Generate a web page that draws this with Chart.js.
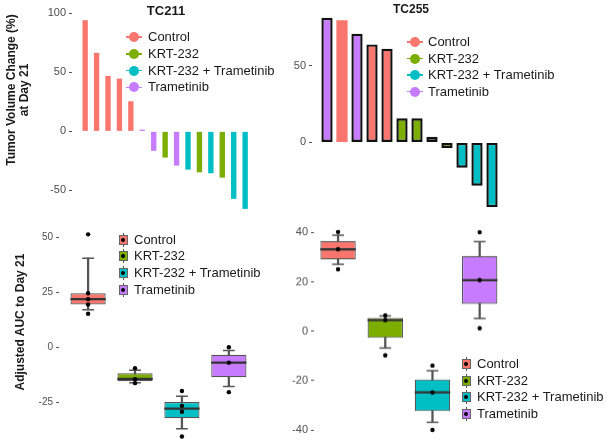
<!DOCTYPE html>
<html>
<head>
<meta charset="utf-8">
<script src="https://cdn.jsdelivr.net/npm/chart.js@4.4.1/dist/chart.umd.min.js"></script>
<style>
  html, body { margin: 0; padding: 0; background: #fff; }
  body { position: relative; width: 608px; height: 441px; overflow: hidden; font-family: 'Liberation Sans', Arial, sans-serif; }
  .panel { position: absolute; }
  .panel canvas { display: block; }
  .ptitle { position: absolute; font-weight: bold; color: #1a1a1a; transform: translate(-50%, -50%); white-space: nowrap; z-index: 2; }
  .ytitle { position: absolute; font-weight: bold; font-size: 12px; line-height: 13px; color: #1a1a1a; text-align: center; white-space: nowrap; transform: translate(-50%, -50%) rotate(-90deg); z-index: 2; }
  .legend { position: absolute; left: 0; top: 0; z-index: 2; font-size: 13px; color: #1a1a1a; }
  .legend .txt { position: absolute; white-space: nowrap; line-height: 16px; transform: translateY(-50%); }
  .legend .key { position: absolute; }
</style>
</head>
<body>

<div class="panel" id="tc211Wf"><canvas id="tc211WfCanvas"></canvas></div>
<div class="panel" id="tc255Wf"><canvas id="tc255WfCanvas"></canvas></div>
<div class="panel" id="tc211Auc"><canvas id="tc211AucCanvas"></canvas></div>
<div class="panel" id="tc255Auc"><canvas id="tc255AucCanvas"></canvas></div>

<div class="ptitle" style="left:166px; top:10px; font-size:13px;">TC211</div>
<div class="ptitle" style="left:411px; top:9px; font-size:12px;">TC255</div>
<div class="ytitle" style="left:18px; top:90px;">Tumor Volume Change (%)<br>at Day 21</div>
<div class="ytitle" style="left:20px; top:322px;">Adjusted AUC to Day 21</div>

<div class="legend" id="legendTL"></div>
<div class="legend" id="legendTR"></div>
<div class="legend" id="legendBL"></div>
<div class="legend" id="legendBR"></div>

<script>
const FONT = "'Liberation Sans', Arial, sans-serif";

const groups = ['Control', 'KRT-232', 'KRT-232 + Trametinib', 'Trametinib'];
const groupColors = ['#F8766D', '#7CAE00', '#00BFC4', '#C77CFF'];

// waterfall TC211, one bar per tumour
const tc211Group = ['Control', 'Control', 'Control', 'Control', 'Control', 'Trametinib', 'Trametinib', 'KRT-232',
    'Trametinib', 'KRT-232 + Trametinib', 'KRT-232', 'KRT-232 + Trametinib', 'KRT-232', 'KRT-232 + Trametinib', 'KRT-232 + Trametinib'];
const tc211Change = [94.2, 66.5, 47, 44.7, 25.5, 1.5, -16.5, -22.2, -29, -32.4, -34.7, -35.5, -39.2, -57.2, -65.7];
const tc211ChangeTicks = [-50, 0, 50, 100];

// waterfall TC255
const tc255Group = ['Trametinib', 'Control', 'Trametinib', 'Control', 'Control', 'KRT-232', 'KRT-232', 'Trametinib',
    'KRT-232', 'KRT-232 + Trametinib', 'KRT-232 + Trametinib', 'KRT-232 + Trametinib'];
const tc255Change = [81.3, 79.6, 70.9, 63.9, 61.1, 15.7, 15.7, 3.7, -3.7, -16.5, -28.2, -42.2];
const tc255ChangeTicks = [0, 50];

// AUC boxplots TC211 (per group: whisker low, q1, median, q3, whisker high)
const tc211Low = [17.1, -16, -36.9, -17.7];
const tc211Q1 = [19.5, -15.3, -32.1, -13.5];
const tc211Median = [21.9, -14.3, -27.8, -6.9];
const tc211Q3 = [24.6, -11.7, -24.8, -3.3];
const tc211High = [40.5, -10.4, -22.1, -1.4];
const tc211Points = [[51.3, 24.6, 21.9, 19.5, 15.3], [-9.4, -14.4, -16.2], [-19.8, -26.5, -29.2, -40.4], [0.1, -6.9, -20.3]];
const tc211AucTicks = [-25, 0, 25, 50];

// AUC boxplots TC255
const tc255Low = [27.1, -6.8, -36.9, 5.2];
const tc255Q1 = [29.1, -2.7, -32.4, 11.1];
const tc255Median = [33.2, 4.5, -24.8, 20.7];
const tc255Q3 = [36.6, 5.4, -19.5, 30.5];
const tc255High = [38.9, 6.2, -16, 36.3];
const tc255Points = [[40.2, 33.2, 25.1], [6.4, 4.5, -9.8], [-13.9, -24.8, -40], [40.1, 20.7, 1.2]];
const tc255AucTicks = [-40, -20, 0, 20, 40];

const PAD = 20;

// sizes the wrapper so the chart area lands on the given pixel box
const placePanel = (id, area, yAxisWidth) => {
    const div = document.getElementById(id);
    div.style.left = (area.left - yAxisWidth) + 'px';
    div.style.top = (area.top - PAD) + 'px';
    div.style.width = (yAxisWidth + area.right - area.left + PAD) + 'px';
    div.style.height = (area.bottom - area.top + 2 * PAD) + 'px';
    return div.querySelector('canvas').getContext('2d');
};

const colorOf = (g) => groupColors[groups.indexOf(g)];

const yAxis = (min, max, ticks, fontSize, width) => ({
    min: min,
    max: max,
    afterBuildTicks: (scale) => { scale.ticks = ticks.map(v => ({ value: v })); },
    afterFit: (scale) => { scale.width = width; },
    border: { display: false },
    grid: {
        drawOnChartArea: false,
        drawTicks: true,
        tickLength: 3,
        color: '#555'
    },
    ticks: {
        color: '#4d4d4d',
        padding: 3,
        font: { family: FONT, size: fontSize }
    }
});

const xAxis = (min, max, count) => ({
    type: 'linear',
    min: min,
    max: max,
    offset: false,
    display: false,
    grid: { offset: false },
    afterBuildTicks: (scale) => { scale.ticks = Array.from({ length: count }, (_, i) => ({ value: i + 1 })); }
});

const baseOptions = (x, y) => ({
    responsive: true,
    maintainAspectRatio: false,
    animation: false,
    events: [],
    layout: { padding: { left: 0, right: PAD, top: PAD, bottom: PAD } },
    scales: { x: x, y: y },
    plugins: {
        legend: { display: false },
        tooltip: { enabled: false }
    }
});

const createWaterfallChart = (ctx, groupList, values, yOpts, xOpts, barOpts) => {
    return new Chart(ctx, {
        type: 'bar',
        data: {
            datasets: [Object.assign({
                data: values.map((v, i) => ({ x: i + 1, y: v })),
                backgroundColor: groupList.map(colorOf),
                categoryPercentage: 1,
                borderSkipped: false
            }, barOpts)]
        },
        options: baseOptions(xOpts, yOpts)
    });
};

// half a box width in pixels
const halfWidth = (units) => (c) => {
    const x = c.chart.scales.x;
    return x.getPixelForValue(1 + units) - x.getPixelForValue(1);
};

const createBoxChart = (ctx, low, q1, median, q3, high, points, yOpts, xOpts) => {
    const boxes = groups.map((g, i) => ({ x: i + 1, y: [q1[i], q3[i]] }));
    const whiskers = groups.map((g, i) => ({ x: i + 1, y: [low[i], high[i]] }));
    const medians = groups.map((g, i) => ({ x: i + 1, y: median[i] }));
    const caps = groups.flatMap((g, i) => [{ x: i + 1, y: low[i] }, { x: i + 1, y: high[i] }]);
    const pts = groups.flatMap((g, i) => points[i].map(v => ({ x: i + 1, y: v })));

    return new Chart(ctx, {
        type: 'bar',
        data: {
            datasets: [
                {
                    type: 'line',
                    data: pts,
                    showLine: false,
                    pointRadius: 2.2,
                    pointBackgroundColor: '#000',
                    pointBorderWidth: 0,
                    order: 0
                },
                {
                    type: 'line',
                    data: medians,
                    showLine: false,
                    pointStyle: 'line',
                    pointRadius: halfWidth(0.375),
                    borderColor: '#333',
                    pointBorderColor: '#333',
                    pointBorderWidth: 2.2,
                    order: 1
                },
                {
                    type: 'line',
                    data: caps,
                    showLine: false,
                    pointStyle: 'line',
                    pointRadius: halfWidth(0.125),
                    borderColor: '#555',
                    pointBorderColor: '#555',
                    pointBorderWidth: 1.5,
                    order: 1
                },
                {
                    type: 'bar',
                    data: boxes,
                    backgroundColor: groupColors,
                    borderColor: '#555',
                    borderWidth: 1.2,
                    borderSkipped: false,
                    grouped: false,
                    barPercentage: 0.75,
                    categoryPercentage: 1,
                    order: 2
                },
                {
                    type: 'bar',
                    data: whiskers,
                    backgroundColor: '#555',
                    barThickness: 1.6,
                    grouped: false,
                    order: 3
                }
            ]
        },
        options: baseOptions(xOpts, yOpts)
    });
};

const buildLegend = (id, kind, keyX, textX, y0, step) => {
    const el = document.getElementById(id);
    groups.forEach((g, i) => {
        const cy = y0 + i * step;
        let key = '';
        if (kind === 'dot') {
            key = `<div class="key" style="left:${keyX - 8}px; top:${cy - 0.75}px; width:16px; height:1.5px; background:${groupColors[i]};"></div>` +
                  `<div class="key" style="left:${keyX - 5}px; top:${cy - 5}px; width:10px; height:10px; border-radius:50%; background:${groupColors[i]};"></div>`;
        } else {
            key = `<div class="key" style="left:${keyX - 0.5}px; top:${cy - 7}px; width:1px; height:14px; background:#555;"></div>` +
                  `<div class="key" style="left:${keyX - 4.5}px; top:${cy - 5}px; width:7px; height:8px; border:1px solid #666; background:${groupColors[i]};"></div>` +
                  `<div class="key" style="left:${keyX - 2}px; top:${cy - 2}px; width:4px; height:4px; border-radius:50%; background:#000;"></div>`;
        }
        el.insertAdjacentHTML('beforeend', key + `<div class="txt" style="left:${textX}px; top:${cy}px;">${g}</div>`);
    });
};

createWaterfallChart(
    placePanel('tc211Wf', { left: 72, right: 252, top: 10.6, bottom: 217.7 }, 45),
    tc211Group, tc211Change,
    yAxis(-73.5, 102, tc211ChangeTicks, 11, 45),
    xAxis(-0.15, 15.6, tc211Change.length),
    { barPercentage: 0.47, borderWidth: 0 }
);

createWaterfallChart(
    placePanel('tc255Wf', { left: 312, right: 501, top: 8.6, bottom: 215.6 }, 45),
    tc255Group, tc255Change,
    yAxis(-48, 87, tc255ChangeTicks, 11, 45),
    xAxis(0, 12.6, tc255Change.length),
    { barPercentage: 0.75, borderColor: '#111', borderWidth: (c) => (c.dataIndex === 1 ? 0 : 2.4) }
);

createBoxChart(
    placePanel('tc211Auc', { left: 59, right: 257, top: 223.6, bottom: 446.2 }, 40),
    tc211Low, tc211Q1, tc211Median, tc211Q3, tc211High, tc211Points,
    yAxis(-45, 56, tc211AucTicks, 10, 40),
    xAxis(0.38, 4.6, groups.length)
);

createBoxChart(
    placePanel('tc255Auc', { left: 314, right: 508, top: 222.3, bottom: 439.2 }, 45),
    tc255Low, tc255Q1, tc255Median, tc255Q3, tc255High, tc255Points,
    yAxis(-44, 44.2, tc255AucTicks, 11, 45),
    xAxis(0.49, 4.6, groups.length)
);

buildLegend('legendTL', 'dot', 134, 148, 37, 16.8);
buildLegend('legendTR', 'dot', 415, 428, 42, 16.5);
buildLegend('legendBL', 'box', 123, 134, 239.5, 16.7);
buildLegend('legendBR', 'box', 466, 477, 364, 16.5);
</script>
</body>
</html>
